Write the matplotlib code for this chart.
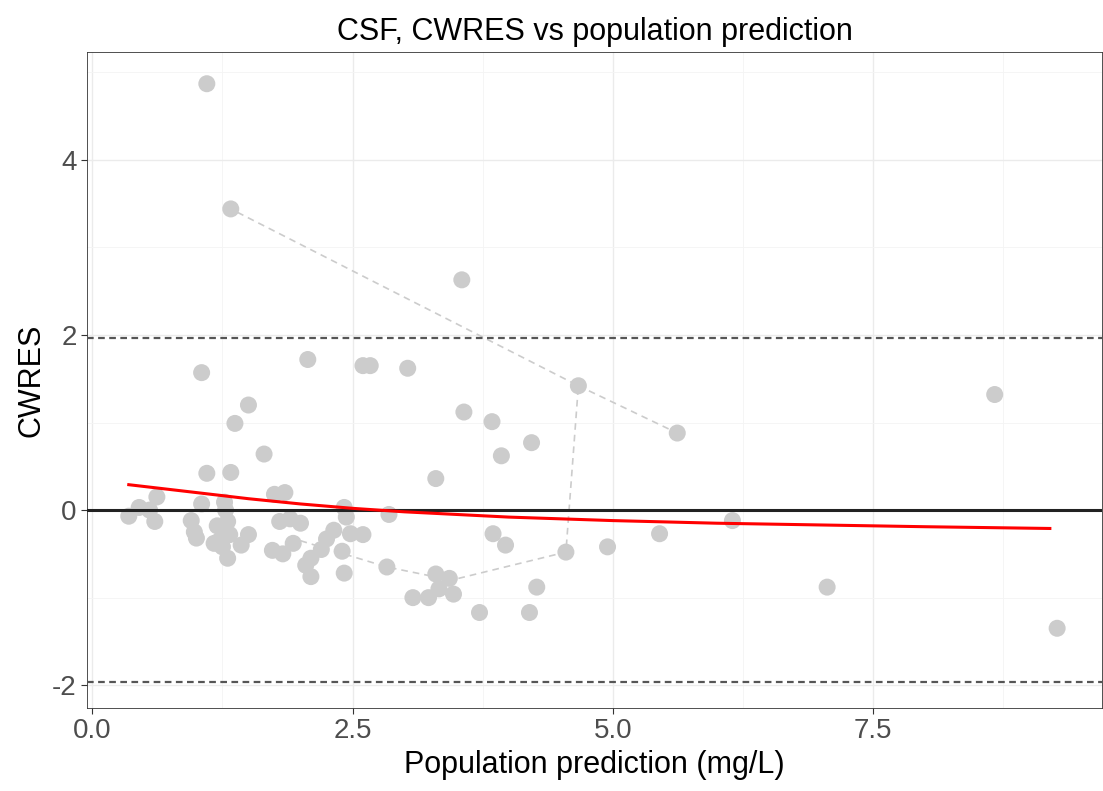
import matplotlib.pyplot as plt

plt.rcParams['font.family'] = ['Liberation Sans', 'DejaVu Sans']
plt.rcParams['axes.unicode_minus'] = False

# observations (population prediction, CWRES)
pred = [1.1, 1.33, 3.55, 1.05, 2.07, 2.6, 2.67, 3.03, 4.67, 1.5, 1.37, 3.57, 3.84, 4.22,
        3.93, 5.62, 8.67, 1.65, 1.1, 1.33, 3.3, 1.75, 1.85, 0.62, 0.45, 0.55, 0.35, 0.6,
        0.95, 0.98, 1.0, 1.05, 1.27, 1.28, 1.2, 1.25, 1.3, 1.32, 1.22, 1.17, 1.25, 1.43,
        1.3, 1.5, 1.8, 1.9, 2.0, 1.73, 1.83, 1.93, 2.1, 2.05, 2.1, 2.2, 2.25, 2.32, 2.42,
        2.44, 2.48, 2.4, 2.42, 2.6, 2.83, 2.85, 3.08, 3.23, 3.33, 3.3, 3.43, 3.47, 3.72,
        4.2, 4.27, 3.85, 3.97, 4.55, 4.95, 5.45, 6.15, 7.06, 9.27]
cwres = [4.87, 3.44, 2.63, 1.57, 1.72, 1.65, 1.65, 1.62, 1.42, 1.2, 0.99, 1.12, 1.01, 0.77,
         0.62, 0.88, 1.32, 0.64, 0.42, 0.43, 0.36, 0.18, 0.2, 0.15, 0.03, 0.0, -0.07, -0.13,
         -0.12, -0.25, -0.32, 0.07, 0.09, 0.0, -0.18, -0.2, -0.13, -0.28, -0.35, -0.38, -0.42, -0.4,
         -0.55, -0.28, -0.13, -0.1, -0.15, -0.46, -0.5, -0.38, -0.55, -0.63, -0.76, -0.45, -0.33, -0.23, 0.03,
         -0.08, -0.27, -0.47, -0.72, -0.28, -0.65, -0.05, -1.0, -1.0, -0.9, -0.73, -0.78, -0.96, -1.17,
         -1.17, -0.88, -0.27, -0.4, -0.48, -0.42, -0.27, -0.12, -0.88, -1.35]

# one subject joined by a dashed line
subj_x = [2.0, 2.83, 3.45, 4.55, 4.67, 1.33]
subj_y = [-0.35, -0.65, -0.8, -0.48, 1.42, 3.44]
subj2_x = [4.67, 5.62]
subj2_y = [1.42, 0.88]

# smooth trend
smooth_x = [0.35, 1.0, 1.5, 2.0, 2.5, 3.0, 4.0, 5.0, 6.0, 7.0, 8.0, 9.2]
smooth_y = [0.29, 0.20, 0.13, 0.07, 0.02, -0.02, -0.08, -0.12, -0.15, -0.17, -0.19, -0.21]

fig, ax = plt.subplots(figsize=(11.03, 7.91), dpi=100)
fig.subplots_adjust(left=0.079, right=0.999, top=0.934, bottom=0.105)

ax.plot(subj_x, subj_y, ls=(0, (4, 3)), color='#cccccc', lw=1.2, zorder=1)
ax.plot(subj2_x, subj2_y, ls=(0, (4, 3)), color='#cccccc', lw=1.2, zorder=1)
ax.scatter(pred, cwres, s=150, color='#cccccc', edgecolors='none', zorder=2)
ax.axhline(0, color='#222222', lw=2.2, zorder=3)
for h in (1.96, -1.96):
    ax.axhline(h, color='#555555', lw=1.6, ls=(0, (3, 2)), zorder=3)
ax.plot(smooth_x, smooth_y, color='red', lw=2.2, zorder=4)

ax.set_xlim(-0.05, 9.7)
ax.set_ylim(-2.26, 5.23)
ax.set_xticks([0, 2.5, 5, 7.5], ['0.0', '2.5', '5.0', '7.5'])
ax.set_yticks([-2, 0, 2, 4])
ax.set_xticks([1.25, 3.75, 6.25, 8.75], minor=True)
ax.set_yticks([-1, 1, 3, 5], minor=True)
ax.grid(True, which='major', color='#ebebeb', lw=1.0)
ax.grid(True, which='minor', color='#f4f4f4', lw=0.6)
ax.set_axisbelow(True)
for s in ax.spines.values():
    s.set_color('#333333')
    s.set_linewidth(0.6)
ax.tick_params(which='major', colors='#333333', labelcolor='#4d4d4d', labelsize=20, length=4)
ax.tick_params(which='minor', length=0)
ax.set_xlabel('Population prediction (mg/L)', fontsize=22)
ax.set_ylabel('CWRES', fontsize=22)
ax.set_title('CSF, CWRES vs population prediction', fontsize=22, pad=9)

fig.savefig('out.png')
